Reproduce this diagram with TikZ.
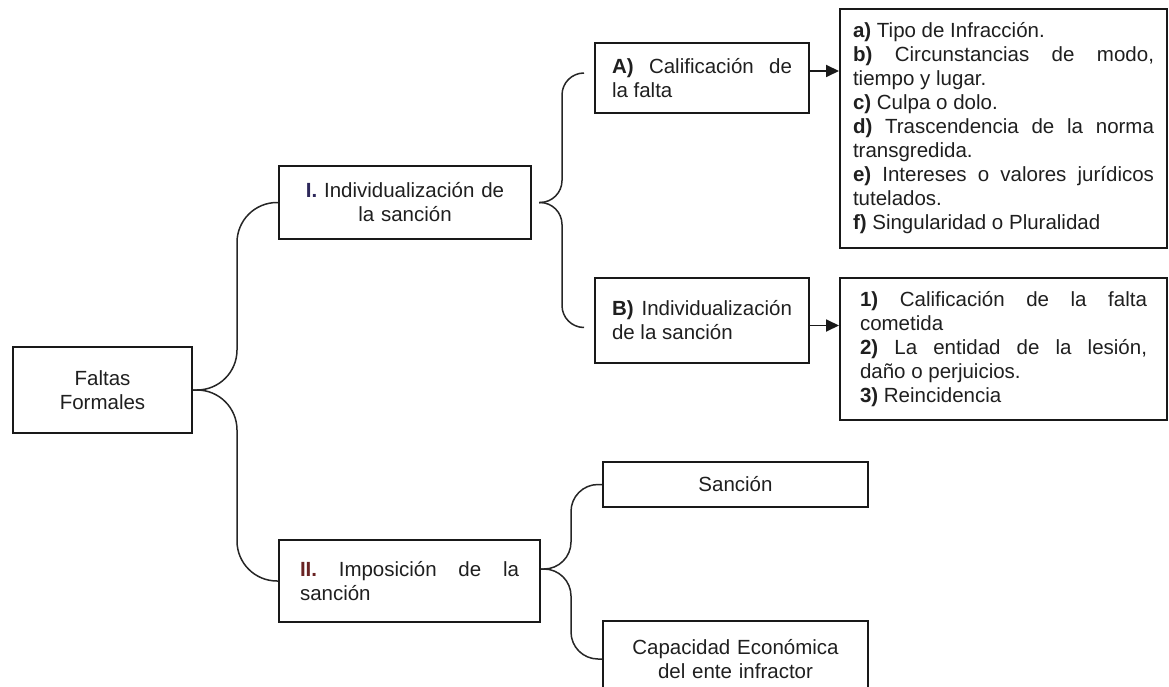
\documentclass[tikz,border=0pt]{standalone}
\usepackage{fontspec}
\setmainfont{Liberation Sans}
\usetikzlibrary{arrows.meta}
\definecolor{numI}{RGB}{45,40,90}
\definecolor{numII}{RGB}{105,35,35}
\tolerance=10000
\hyphenpenalty=10000
\tikzset{
	caja/.style={draw=black!90, line width=2pt, inner ysep=0pt, text=black!88,
		font=\fontsize{20.5}{24}\selectfont},
	llave/.style={draw=black!85, line width=1.5pt, rounded corners=#1},
	flecha/.style={draw=black!90, line width=1.8pt, -{Triangle[length=13pt,width=12pt]}}
}
\begin{document}
\begin{tikzpicture}[x=1pt,y=-1pt]
			\useasboundingbox (0,0) rectangle (1169,687);
			\clip (0,0) rectangle (1169,687);
			\node[caja, align=center, text width=159, minimum width=179, minimum height=86] (faltas) at (102.5,390) {Faltas\\Formales};
			\node[caja, align=center, text width=232, minimum width=252, minimum height=73] (indiv) at (405,202.5) {\textbf{\color{numI}I.} Individualización de\\la sanción};
			\node[caja, align=justify, text width=180, inner xsep=17, minimum height=70] (calif) at (702,78) {\textbf{A)} Calificación de\linebreak la falta};
			\node[caja, align=justify, text width=180, inner xsep=17, minimum height=85] (indivb) at (702,320.5) {\textbf{B)} Individualización\linebreak de la sanción};
			\node[caja, align=justify, text width=301, inner xsep=13, minimum height=239] (lista) at (1003.5,128.5) {\textbf{a)} Tipo de Infracción.\\
				\textbf{b)} Circunstancias de modo,\linebreak tiempo y lugar.\\
				\textbf{c)} Culpa o dolo.\\
				\textbf{d)} Trascendencia de la norma\linebreak transgredida.\\
				\textbf{e)} Intereses o valores jurídicos\linebreak tutelados.\\
				\textbf{f)} Singularidad o Pluralidad};
			\node[caja, align=justify, text width=287, inner xsep=20, minimum height=142] (listb) at (1003.5,349) {\textbf{1)} Calificación de la falta\linebreak cometida\\
				\textbf{2)} La entidad de la lesión,\linebreak daño o perjuicios.\\
				\textbf{3)} Reincidencia};
			\node[caja, align=justify, text width=219, inner xsep=21, minimum height=82] (impos) at (409.5,581) {\textbf{\color{numII}II.} Imposición de la\linebreak sanción};
			\node[caja, align=center, text width=245, minimum width=265, minimum height=45] (sancion) at (735.5,484.5) {Sanción};
			\node[caja, align=center, text width=245, minimum width=265, minimum height=76] (capac) at (735.5,659) {Capacidad Económica\\del ente infractor};
			
			\foreach \to in {indiv,impos}
			\draw[llave=40pt] (faltas.east) -- ++(44,0) |- (\to.west);
			\foreach \to/\dy in {calif/5,indivb/-7}
			\draw[llave=22pt, shorten <=7pt, shorten >=10pt] (indiv.east) -- ++(30,0) |- ([yshift=\dy pt]\to.west);
			\foreach \to in {sancion,capac}
			\draw[llave=27pt] ([yshift=12pt]impos.east) -- ++(30,0) |- (\to.west);
			
			\draw[flecha] ([yshift=7pt]calif.east) -- ([yshift=7pt]calif.east -| lista.west);
			\draw[flecha] ([yshift=-5pt]indivb.east) -- ([yshift=-5pt]indivb.east -| listb.west);
			\end{tikzpicture}
\end{document}
